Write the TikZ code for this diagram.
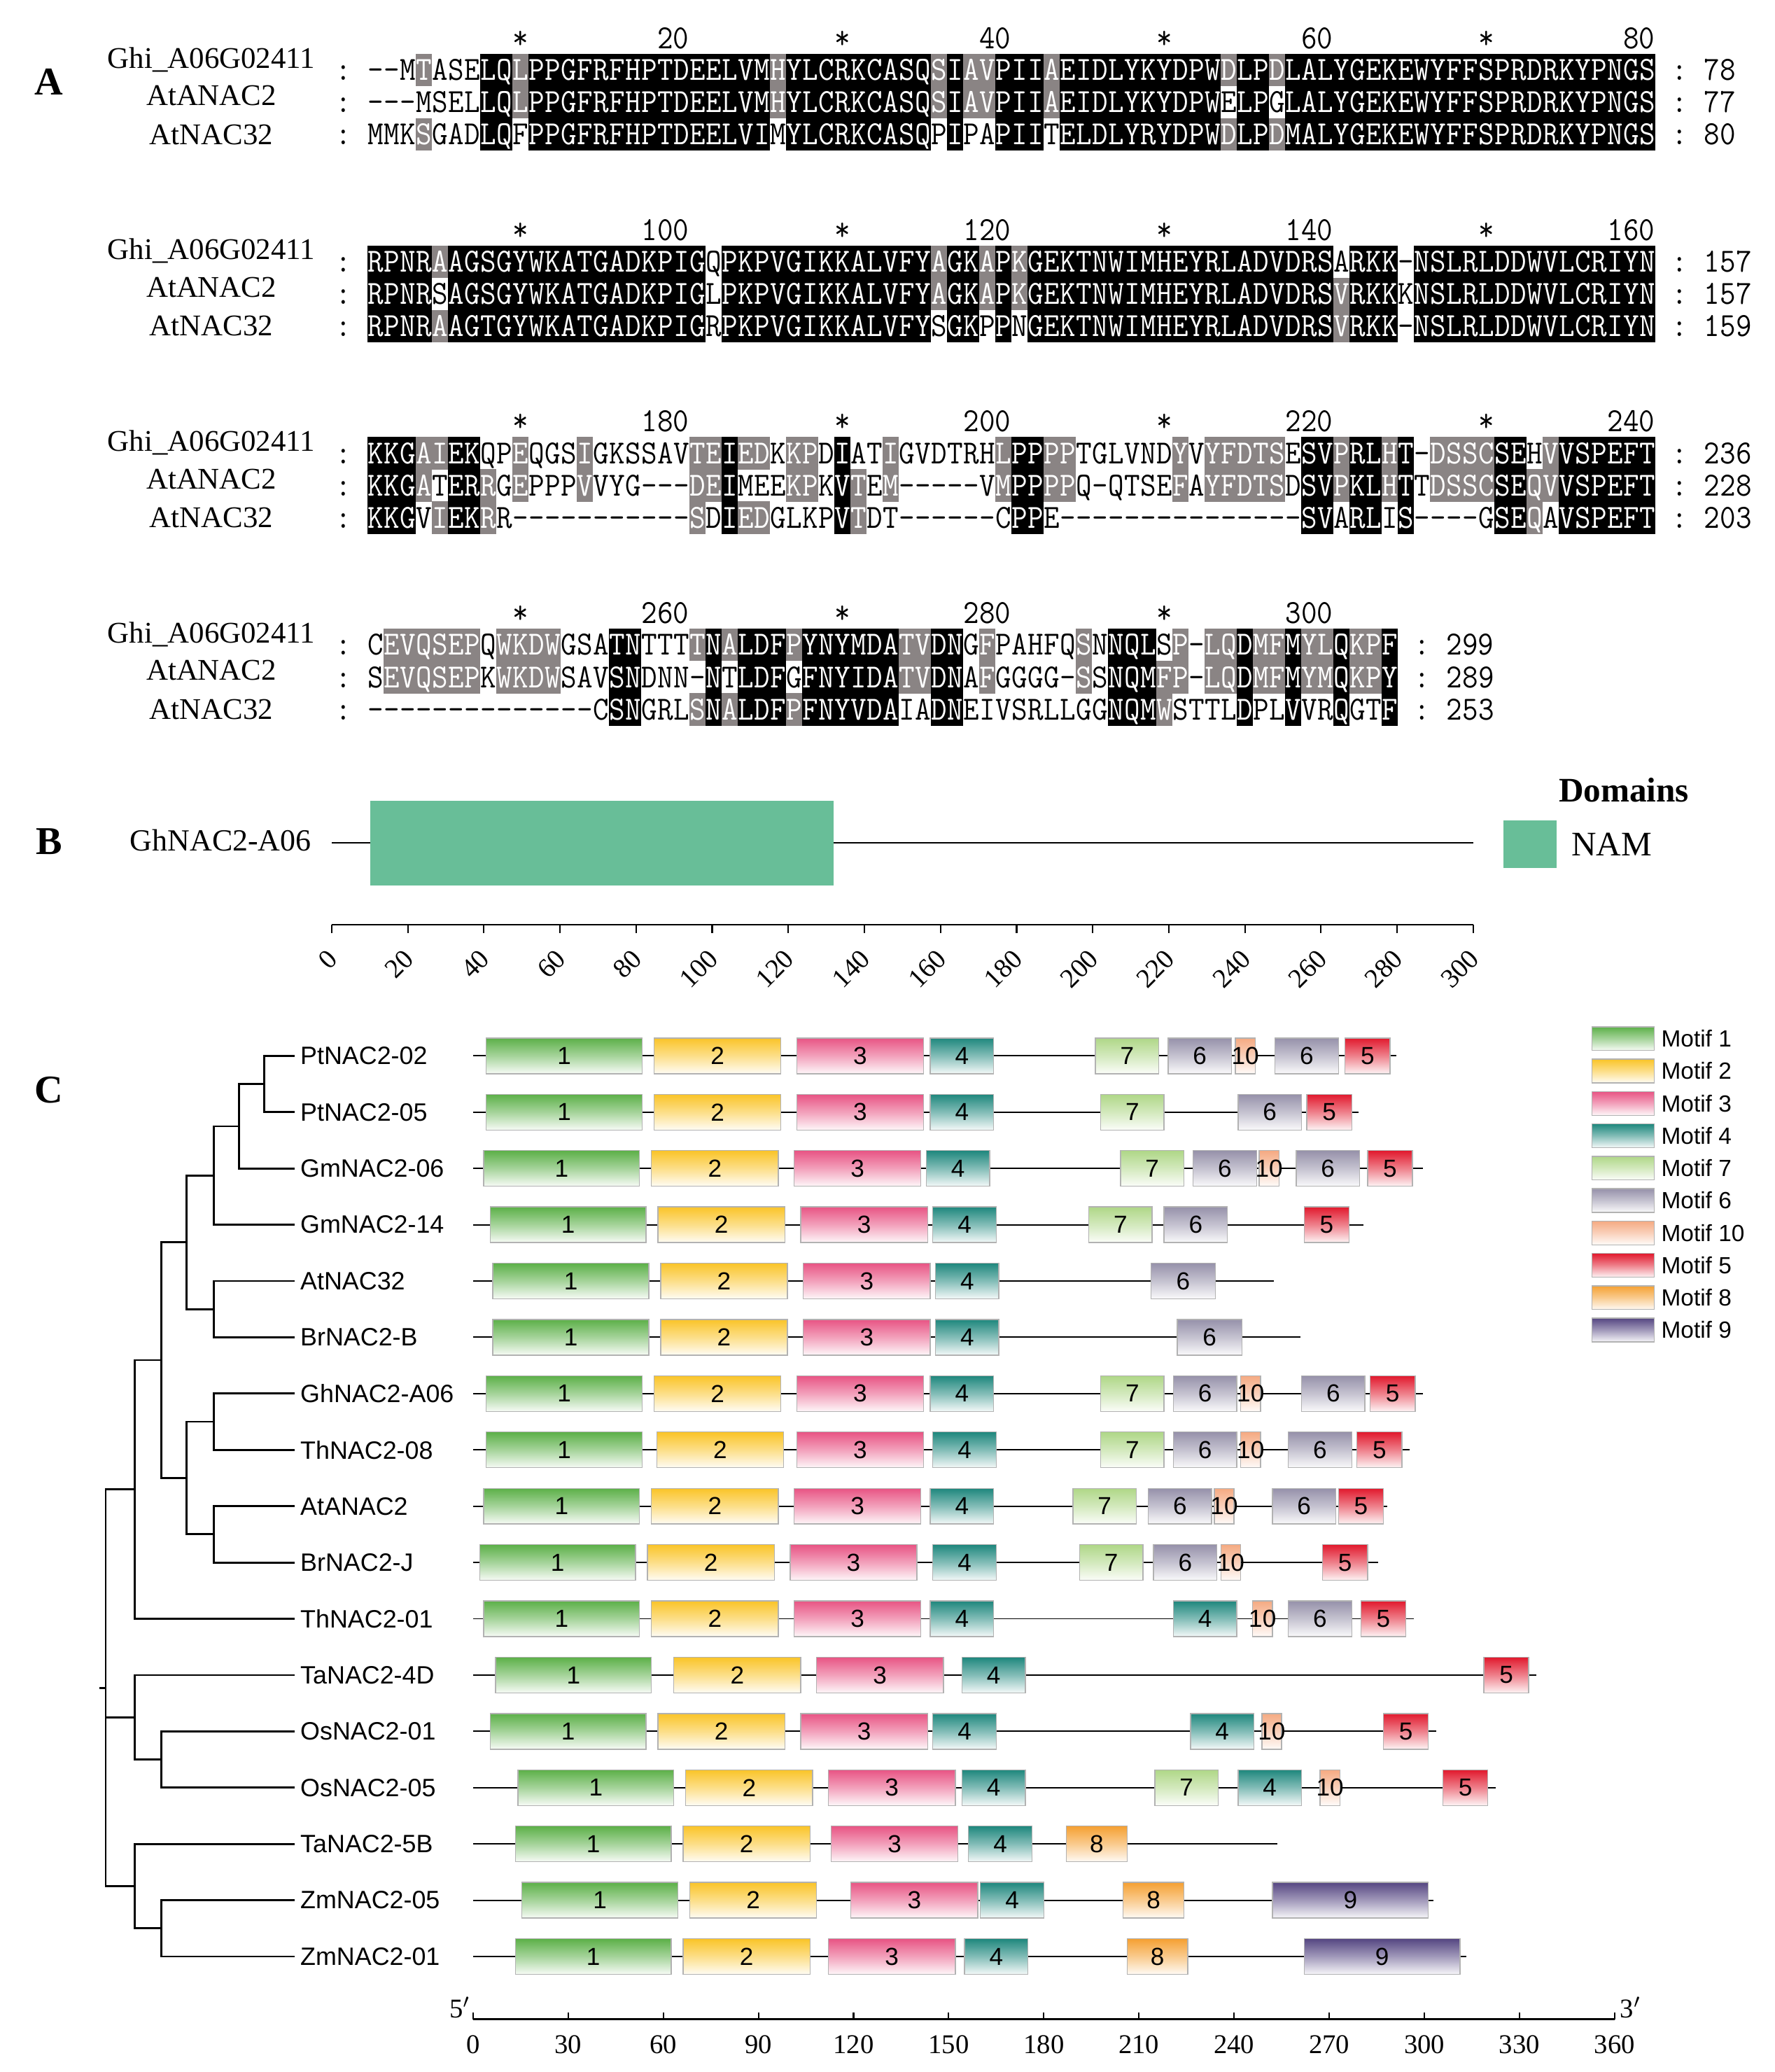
\documentclass[tikz,border=0pt]{standalone}
\usepackage{fontspec}
\usepackage{graphicx}
\setmainfont{Liberation Serif}
\setsansfont{Liberation Sans}
\definecolor{shgray}{RGB}{138,132,132}
\definecolor{namgreen}{RGB}{104,190,152}
\definecolor{m1}{RGB}{92,176,72}
\definecolor{m2}{RGB}{250,196,40}
\definecolor{m3}{RGB}{232,84,132}
\definecolor{m4}{RGB}{30,135,125}
\definecolor{m5}{RGB}{225,25,45}
\definecolor{m6}{RGB}{150,145,170}
\definecolor{m7}{RGB}{175,215,135}
\definecolor{m8}{RGB}{245,160,50}
\definecolor{m9}{RGB}{85,70,130}
\definecolor{m10}{RGB}{245,170,130}
\newcount\alncol
\let\seqend\relax
\def\shpop#1#2\shend{\def\shcur{#1}\def\shrest{#2}}
\def\seqrow#1#2#3{\def\shrest{#3}\alncol=0\relax\def\rowy{#1}\seqparse#2\seqend}
\def\seqparse#1{\ifx#1\seqend\else\seqcell{#1}\expandafter\seqparse\fi}
\def\seqtxt#1{\scalebox{1}[1.1]{#1}}
\def\seqcell#1{%
  \expandafter\shpop\shrest\shend
  \advance\alncol by 1\relax
  \pgfmathsetmacro\seqcx{278.1+12.185*(\the\alncol-0.5)}%
  \if b\shcur
    \fill[black] (\seqcx-6.2,\rowy-12.3) rectangle (\seqcx+6.2,\rowy+12.3);
    \node[seqch,text=white] at (\seqcx,\rowy) {\seqtxt{#1}};
  \else
    \if g\shcur
      \fill[shgray] (\seqcx-6.2,\rowy-12.3) rectangle (\seqcx+6.2,\rowy+12.3);
      \node[seqch,text=white] at (\seqcx,\rowy) {\seqtxt{#1}};
    \else
      \node[seqch,text=black] at (\seqcx,\rowy) {\seqtxt{#1}};
    \fi
  \fi}
\newcommand\blockdeco[5]{%
  \node[namefont] at (160,#1-8) {Ghi\_A06G02411};
  \node[namefont] at (160,#1+24.4-5) {AtANAC2};
  \node[namefont] at (160,#1+48.8) {AtNAC32};
  \foreach \r/\n in {0/#3,1/#4,2/#5}{
    \node[seqch] at (259.8,#1+24.4*\r) {\seqtxt{:}};
    \node[seqch] at ({278.1+12.185*(#2+1.5)},#1+24.4*\r) {\seqtxt{:}};
    \node[seqch,anchor=west] at ({278.1+12.185*(#2+3)},#1+24.4*\r) {\seqtxt{\n}};
  }}
\newcommand\motifbox[4]{%
  \path[draw=black!30,line width=0.4pt,top color=m#1,bottom color=m#1!5,middle color=m#1!55]
    (#2,#4-13.5) rectangle (#3,#4+13.5);
  \node[motlab] at ({(#2+#3)/2},#4) {#1};}
\newcommand\legbox[3]{%
  \path[draw=black!30,line width=0.4pt,top color=m#1,bottom color=m#1!5,middle color=m#1!55]
    (1205,#2-9) rectangle (1252,#2+9);
  \node[leglab] (leg#1) at (1257,#2) {#3};}
\begin{document}
\begin{tikzpicture}[x=0.18876mm,y=-0.18876mm,
  seqch/.style={font=\ttfamily\fontsize{12.47}{14}\selectfont,inner sep=0pt,text height=8.4pt,text depth=0pt,anchor=center},
  namefont/.style={font=\fontsize{12.2}{14}\selectfont,inner sep=0pt},
  panel/.style={font=\bfseries\fontsize{16}{18}\selectfont,inner sep=0pt},
  motlab/.style={font=\sffamily\fontsize{10}{12}\selectfont,inner sep=0pt},
  leglab/.style={font=\sffamily\fontsize{9.5}{11}\selectfont,inner sep=0pt,anchor=west},
  genelab/.style={font=\sffamily\fontsize{10.2}{12}\selectfont,inner sep=0pt,anchor=west},
  treeline/.style={line width=0.8pt},
  protline/.style={line width=0.55pt}]
\useasboundingbox (0,0) rectangle (1343,1568);
\fill[white] (0,0) rectangle (1343,1568);
% ---------------- Panel A ----------------
\node[panel] (labA) at (37,62) {A};
\foreach \b/\la/\lb/\lc/\ld in {0/20/40/60/80,1/100/120/140/160,2/180/200/220/240}{
  \foreach \c/\t in {20/\la,40/\lb,60/\lc,80/\ld}
    \node[seqch,anchor=east] at ({278.1+12.185*\c},29+145*\b) {\seqtxt{\t}};
  \foreach \c in {10,30,50,70}
    \node[seqch] at ({278.1+12.185*(\c-0.5)},29+145*\b) {\seqtxt{*}};
}
\foreach \c/\t in {20/260,40/280,60/300}
  \node[seqch,anchor=east] at ({278.1+12.185*\c},464) {\seqtxt{\t}};
\foreach \c in {10,30,50}
  \node[seqch] at ({278.1+12.185*(\c-0.5)},464) {\seqtxt{*}};
% block 1
\seqrow{53}{--MTASELQLPPGFRFHPTDEELVMHYLCRKCASQSIAVPIIAEIDLYKYDPWDLPDLALYGEKEWYFFSPRDRKYPNGS}
{wwwgwwwbbgbbbbbbbbbbbbbbbgbbbbbbbbbgbggbbbgbbbbbbbbbbgbbgbbbbbbbbbbbbbbbbbbbbbbb}
\seqrow{77.4}{---MSELLQLPPGFRFHPTDEELVMHYLCRKCASQSIAVPIIAEIDLYKYDPWELPGLALYGEKEWYFFSPRDRKYPNGS}
{wwwwwwwbbgbbbbbbbbbbbbbbbgbbbbbbbbbgbggbbbgbbbbbbbbbbwbbwbbbbbbbbbbbbbbbbbbbbbbb}
\seqrow{101.8}{MMKSGADLQFPPGFRFHPTDEELVIMYLCRKCASQPIPAPIITELDLYRYDPWDLPDMALYGEKEWYFFSPRDRKYPNGS}
{wwwgwwwbbwbbbbbbbbbbbbbbbwbbbbbbbbbwbwwbbbwbbbbbbbbbbgbbgbbbbbbbbbbbbbbbbbbbbbbb}
\blockdeco{53}{80}{78}{77}{80}
% block 2
\seqrow{198}{RPNRAAGSGYWKATGADKPIGQPKPVGIKKALVFYAGKAPKGEKTNWIMHEYRLADVDRSARKK-NSLRLDDWVLCRIYN}
{bbbbgbbbbbbbbbbbbbbbbwbbbbbbbbbbbbbgbbgbgbbbbbbbbbbbbbbbbbbbwbbbwbbbbbbbbbbbbbbb}
\seqrow{222.4}{RPNRSAGSGYWKATGADKPIGLPKPVGIKKALVFYAGKAPKGEKTNWIMHEYRLADVDRSVRKKKNSLRLDDWVLCRIYN}
{bbbbwbbbbbbbbbbbbbbbbwbbbbbbbbbbbbbgbbgbgbbbbbbbbbbbbbbbbbbbgbbbwbbbbbbbbbbbbbbb}
\seqrow{246.8}{RPNRAAGTGYWKATGADKPIGRPKPVGIKKALVFYSGKPPNGEKTNWIMHEYRLADVDRSVRKK-NSLRLDDWVLCRIYN}
{bbbbgbbbbbbbbbbbbbbbbwbbbbbbbbbbbbbwbbwbwbbbbbbbbbbbbbbbbbbbgbbbwbbbbbbbbbbbbbbb}
\blockdeco{198}{80}{157}{157}{159}
% block 3
\seqrow{343}{KKGAIEKQPEQGSIGKSSAVTEIEDKKPDIATIGVDTRHLPPPPTGLVNDYVYFDTSESVPRLHT-DSSCSEHVVSPEFT}
{bbbggbbwwgwwwgwwwwwwggbggwggwbwwgwwwwwwgbbggwwwwwwgwgggggwbbgbbgbwggggbbwgbbbbbb}
\seqrow{367.4}{KKGATERRGEPPPVVYG---DEIMEEKPKVTEM-----VMPPPPQ-QTSEFAYFDTSDSVPKLHTTDSSCSEQVVSPEFT}
{bbbgwbbgwgwwwgwwwwwwggbwwwggwbgwgwwwwwwgbbggwwwwwwgwgggggwbbgbbgbwggggbbggbbbbbb}
\seqrow{391.8}{KKGVIEKRR-----------SDIEDGLKPVTDT------CPPE---------------SVARLIS----GSEQAVSPEFT}
{bbbwgbbgwwwwwwwwwwwwgwbggwwwwbgwwwwwwwwwbbwwwwwwwwwwwwwwwwbbwbbwbwwwwwbbgwbbbbbb}
\blockdeco{343}{80}{236}{228}{203}
% block 4
\seqrow{488}{CEVQSEPQWKDWGSATNTTTTNALDFPYNYMDATVDNGFPAHFQSNNQLSP-LQDMFMYLQKPF}
{wggggggwggggwwwbbwwwgbgbbbgbbbbbbggbbwgwwwwwgwbbbwgwggbggbggbggb}
\seqrow{512.4}{SEVQSEPKWKDWSAVSNDNN-NTLDFGFNYIDATVDNAFGGGG-SSNQMFP-LQDMFMYMQKPY}
{wggggggwggggwwwbbwwwwbwbbbwbbbbbbggbbwgwwwwwgwbbbggwggbggbggbggb}
\seqrow{536.8}{--------------CSNGRLSNALDFPFNYVDAIADNEIVSRLLGGNQMWSTTLDPLVVRQGTF}
{wwwwwwwwwwwwwwwbbwwwgbgbbbgbbbbbbwwbbwwwwwwwwwbbbgwwwwbwwbwwbwwb}
\blockdeco{488}{64}{299}{289}{253}
% ---------------- Panel B ----------------
\node[panel] (labB) at (37,637) {B};
\node[font=\fontsize{12.5}{14}\selectfont,inner sep=0pt] (ghB) at (167,636) {GhNAC2-A06};
\coordinate (pS) at (251,638);
\coordinate (pE) at (1115,638);
\draw[protline] (pS) -- (pE);
\fill[namgreen] (280,606) rectangle (631,670);
\node[font=\bfseries\fontsize{14}{16}\selectfont,inner sep=0pt] (domh) at (1229,598) {Domains};
\fill[namgreen] (1138,621) rectangle (1178,657);
\node[font=\fontsize{14}{16}\selectfont,inner sep=0pt,anchor=west] (namlab) at (1189,639) {NAM};
\coordinate (aS) at (251,700);
\coordinate (aE) at (1115,700);
\draw[line width=0.6pt] (aS) -- (aE);
\foreach \k in {0,...,15}{
  \pgfmathtruncatemacro\lab{20*\k}
  \draw[line width=0.6pt] ({251+57.6*\k},700) -- ({251+57.6*\k},706);
  \node[font=\fontsize{11}{12}\selectfont,inner sep=0pt,rotate=45,anchor=east] at ({251+57.6*\k+1},722) {\lab};
}
% ---------------- Panel C ----------------
\node[panel] (labC) at (37,825) {C};
\foreach \i/\g in {0/PtNAC2-02,1/PtNAC2-05,2/GmNAC2-06,3/GmNAC2-14,4/AtNAC32,5/BrNAC2-B,
  6/GhNAC2-A06,7/ThNAC2-08,8/AtANAC2,9/BrNAC2-J,10/ThNAC2-01,11/TaNAC2-4D,12/OsNAC2-01,
  13/OsNAC2-05,14/TaNAC2-5B,15/ZmNAC2-05,16/ZmNAC2-01}{
  \node[genelab] (G\i) at (227,{799+42.6*\i}) {\g};
  \coordinate (L\i) at (223,{799+42.6*\i});
}
\coordinate (n01) at (200,820.3);
\coordinate (n012) at (181,852.3);
\coordinate (n0123) at (162,889.5);
\coordinate (n45) at (162,990.7);
\coordinate (nA) at (141,940.1);
\coordinate (n67) at (162,1075.9);
\coordinate (n89) at (162,1161.1);
\coordinate (nB) at (141,1118.5);
\coordinate (nAB) at (122,1029.3);
\coordinate (nD) at (102,1127.2);
\coordinate (n1213) at (122,1331.5);
\coordinate (nM1) at (102,1299.6);
\coordinate (n1516) at (122,1459.3);
\coordinate (nM2) at (102,1427.4);
\coordinate (root) at (80,1277.3);
\coordinate (rootstub) at (75,1277.3);
\draw[treeline] (n01) |- (L0);  \draw[treeline] (n01) |- (L1);
\draw[treeline] (n012) |- (n01); \draw[treeline] (n012) |- (L2);
\draw[treeline] (n0123) |- (n012); \draw[treeline] (n0123) |- (L3);
\draw[treeline] (n45) |- (L4); \draw[treeline] (n45) |- (L5);
\draw[treeline] (nA) |- (n0123); \draw[treeline] (nA) |- (n45);
\draw[treeline] (n67) |- (L6); \draw[treeline] (n67) |- (L7);
\draw[treeline] (n89) |- (L8); \draw[treeline] (n89) |- (L9);
\draw[treeline] (nB) |- (n67); \draw[treeline] (nB) |- (n89);
\draw[treeline] (nAB) |- (nA); \draw[treeline] (nAB) |- (nB);
\draw[treeline] (nD) |- (nAB); \draw[treeline] (nD) |- (L10);
\draw[treeline] (n1213) |- (L12); \draw[treeline] (n1213) |- (L13);
\draw[treeline] (nM1) |- (L11); \draw[treeline] (nM1) |- (n1213);
\draw[treeline] (n1516) |- (L15); \draw[treeline] (n1516) |- (L16);
\draw[treeline] (nM2) |- (L14); \draw[treeline] (nM2) |- (n1516);
\draw[treeline] (root) |- (nD); \draw[treeline] (root) |- (nM1); \draw[treeline] (root) |- (nM2);
\draw[treeline] (rootstub) -- (root);
\foreach \i/\e in {0/1057,1/1028,2/1077,3/1032,4/964,5/984,6/1077,7/1067,8/1050,9/1043,
  10/1070,11/1163,12/1087,13/1132,14/967,15/1085,16/1110}{
  \coordinate (ps\i) at (358,{799+42.6*\i});
  \coordinate (pe\i) at (\e,{799+42.6*\i});
  \draw[protline] (ps\i) -- (pe\i);
}
% row 0
\motifbox{1}{368}{486}{799}\motifbox{2}{495}{591}{799}\motifbox{3}{603}{699}{799}\motifbox{4}{704}{752}{799}
\motifbox{7}{829}{877}{799}\motifbox{6}{884}{932}{799}\motifbox{10}{935}{950}{799}\motifbox{6}{965}{1013}{799}\motifbox{5}{1018}{1052}{799}
% row 1
\motifbox{1}{368}{486}{841.6}\motifbox{2}{495}{591}{841.6}\motifbox{3}{603}{699}{841.6}\motifbox{4}{704}{752}{841.6}
\motifbox{7}{833}{881}{841.6}\motifbox{6}{937}{985}{841.6}\motifbox{5}{989}{1023}{841.6}
% row 2
\motifbox{1}{366}{484}{884.2}\motifbox{2}{493}{589}{884.2}\motifbox{3}{601}{697}{884.2}\motifbox{4}{701}{749}{884.2}
\motifbox{7}{848}{896}{884.2}\motifbox{6}{903}{951}{884.2}\motifbox{10}{953}{968}{884.2}\motifbox{6}{981}{1029}{884.2}\motifbox{5}{1035}{1069}{884.2}
% row 3
\motifbox{1}{371}{489}{926.8}\motifbox{2}{498}{594}{926.8}\motifbox{3}{606}{702}{926.8}\motifbox{4}{706}{754}{926.8}
\motifbox{7}{824}{872}{926.8}\motifbox{6}{881}{929}{926.8}\motifbox{5}{987}{1021}{926.8}
% row 4
\motifbox{1}{373}{491}{969.4}\motifbox{2}{500}{596}{969.4}\motifbox{3}{608}{704}{969.4}\motifbox{4}{708}{756}{969.4}
\motifbox{6}{871}{920}{969.4}
% row 5
\motifbox{1}{373}{491}{1012}\motifbox{2}{500}{596}{1012}\motifbox{3}{608}{704}{1012}\motifbox{4}{708}{756}{1012}
\motifbox{6}{891}{940}{1012}
% row 6
\motifbox{1}{368}{486}{1054.6}\motifbox{2}{495}{591}{1054.6}\motifbox{3}{603}{699}{1054.6}\motifbox{4}{704}{752}{1054.6}
\motifbox{7}{833}{881}{1054.6}\motifbox{6}{888}{936}{1054.6}\motifbox{10}{939}{954}{1054.6}\motifbox{6}{985}{1033}{1054.6}\motifbox{5}{1037}{1071}{1054.6}
% row 7
\motifbox{1}{368}{486}{1097.2}\motifbox{2}{497}{593}{1097.2}\motifbox{3}{603}{699}{1097.2}\motifbox{4}{706}{754}{1097.2}
\motifbox{7}{833}{881}{1097.2}\motifbox{6}{888}{936}{1097.2}\motifbox{10}{939}{954}{1097.2}\motifbox{6}{975}{1023}{1097.2}\motifbox{5}{1027}{1061}{1097.2}
% row 8
\motifbox{1}{366}{484}{1139.8}\motifbox{2}{493}{589}{1139.8}\motifbox{3}{601}{697}{1139.8}\motifbox{4}{704}{752}{1139.8}
\motifbox{7}{812}{860}{1139.8}\motifbox{6}{869}{917}{1139.8}\motifbox{10}{919}{934}{1139.8}\motifbox{6}{963}{1011}{1139.8}\motifbox{5}{1013}{1047}{1139.8}
% row 9
\motifbox{1}{363}{481}{1182.4}\motifbox{2}{490}{586}{1182.4}\motifbox{3}{598}{694}{1182.4}\motifbox{4}{706}{754}{1182.4}
\motifbox{7}{817}{865}{1182.4}\motifbox{6}{873}{921}{1182.4}\motifbox{10}{924}{939}{1182.4}\motifbox{5}{1001}{1035}{1182.4}
% row 10
\motifbox{1}{366}{484}{1225}\motifbox{2}{493}{589}{1225}\motifbox{3}{601}{697}{1225}\motifbox{4}{704}{752}{1225}
\motifbox{4}{888}{936}{1225}\motifbox{10}{948}{963}{1225}\motifbox{6}{975}{1023}{1225}\motifbox{5}{1030}{1064}{1225}
% row 11
\motifbox{1}{375}{493}{1267.6}\motifbox{2}{510}{606}{1267.6}\motifbox{3}{618}{714}{1267.6}\motifbox{4}{728}{776}{1267.6}
\motifbox{5}{1123}{1157}{1267.6}
% row 12
\motifbox{1}{371}{489}{1310.2}\motifbox{2}{498}{594}{1310.2}\motifbox{3}{606}{702}{1310.2}\motifbox{4}{706}{754}{1310.2}
\motifbox{4}{901}{949}{1310.2}\motifbox{10}{955}{970}{1310.2}\motifbox{5}{1047}{1081}{1310.2}
% row 13
\motifbox{1}{392}{510}{1352.8}\motifbox{2}{519}{615}{1352.8}\motifbox{3}{627}{723}{1352.8}\motifbox{4}{728}{776}{1352.8}
\motifbox{7}{874}{922}{1352.8}\motifbox{4}{937}{985}{1352.8}\motifbox{10}{999}{1014}{1352.8}\motifbox{5}{1092}{1126}{1352.8}
% row 14
\motifbox{1}{390}{508}{1395.4}\motifbox{2}{517}{613}{1395.4}\motifbox{3}{629}{725}{1395.4}\motifbox{4}{733}{781}{1395.4}
\motifbox{8}{807}{853}{1395.4}
% row 15
\motifbox{1}{395}{513}{1438}\motifbox{2}{522}{618}{1438}\motifbox{3}{644}{740}{1438}\motifbox{4}{742}{790}{1438}
\motifbox{8}{850}{896}{1438}\motifbox{9}{963}{1081}{1438}
% row 16
\motifbox{1}{390}{508}{1480.6}\motifbox{2}{517}{613}{1480.6}\motifbox{3}{627}{723}{1480.6}\motifbox{4}{730}{778}{1480.6}
\motifbox{8}{853}{899}{1480.6}\motifbox{9}{987}{1105}{1480.6}
% legend
\legbox{1}{786}{Motif 1}
\legbox{2}{810.5}{Motif 2}
\legbox{3}{835}{Motif 3}
\legbox{4}{859.5}{Motif 4}
\legbox{7}{884}{Motif 7}
\legbox{6}{908.5}{Motif 6}
\legbox{10}{933}{Motif 10}
\legbox{5}{957.5}{Motif 5}
\legbox{8}{982}{Motif 8}
\legbox{9}{1006.5}{Motif 9}
% bottom axis
\coordinate (xS) at (358,1528);
\coordinate (xE) at (1222,1528);
\draw[line width=0.6pt] (xS) -- (xE);
\foreach \k in {0,...,12}{
  \pgfmathtruncatemacro\lab{30*\k}
  \draw[line width=0.6pt] ({358+72*\k},1528) -- ({358+72*\k},1523);
  \node[font=\fontsize{11}{12}\selectfont,inner sep=0pt] at ({358+72*\k},1547) {\lab};
}
\node[font=\fontsize{11}{12}\selectfont,inner sep=0pt] (five) at (348,1519) {5$'$};
\node[font=\fontsize{11}{12}\selectfont,inner sep=0pt] (three) at (1234,1519) {3$'$};
\end{tikzpicture}
\end{document}
